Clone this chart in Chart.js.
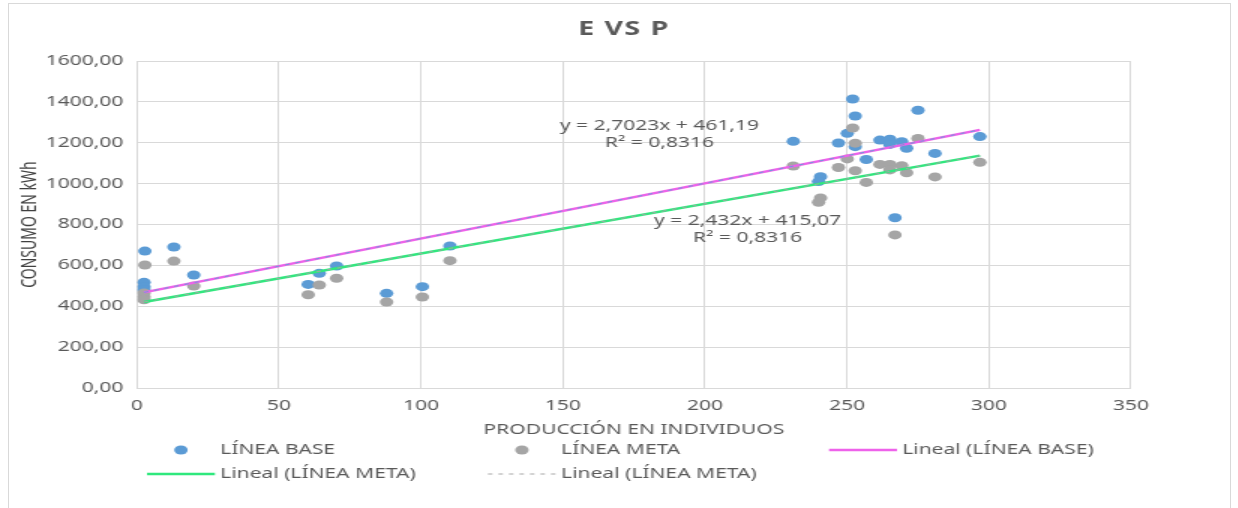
<!DOCTYPE html>
<html>
<head>
<meta charset="utf-8">
<script src="https://cdn.jsdelivr.net/npm/chart.js@4.4.0/dist/chart.umd.min.js"></script>
<style>
  html, body { margin: 0; padding: 0; background: #fff; overflow: hidden; }
  #frame { position: absolute; left: 8px; top: 3px; width: 1221px; height: 530px; border: 1px solid #d9d9d9; }
  /* the reference is stretched sideways, so draw narrow and widen it */
  #wrap { position: absolute; left: 0; top: 0; width: 825.33px; height: 508px; transform: scaleX(1.5); transform-origin: 0 0; }
</style>
</head>
<body>
<div id="frame"></div>
<div id="wrap"><canvas id="chart"></canvas></div>
<script>
const FONT = "'Noto Sans', sans-serif";
const TEXT = "#595959";
const GRID = "#d9d9d9";

// production (x) shared by both series
const produccion = [2.8, 13, 20, 2.5, 2.5, 2.5, 60.3, 64.2, 70.3, 87.9, 100.5, 110.2,
  231.1, 252, 252.9, 250.1, 247, 252.9, 240.7, 240, 256.8, 261.6, 265.1, 265.1,
  269.3, 271, 275, 281, 296.8, 266.9];
const lineaBase = [670, 690, 553, 517, 495, 480, 507, 561, 597, 463, 496, 695,
  1207, 1414, 1331, 1246, 1199, 1181, 1034, 1010, 1118, 1213, 1217, 1192,
  1205, 1173, 1359, 1148, 1230, 833];
const lineaMeta = [602, 621, 499, 465, 446, 432, 456, 504, 537, 421, 445, 623,
  1086, 1272, 1198, 1121, 1079, 1063, 930, 909, 1006, 1094, 1094, 1067,
  1088, 1053, 1221, 1033, 1104, 749];

// trend coefficients as printed on the chart
const trendBase = { m: 2.7023, b: 461.19, label: "y = 2,7023x + 461,19", r2: "R² = 0,8316", at: [184, 1282] };
const trendMeta = { m: 2.432, b: 415.07, label: "y = 2,432x + 415,07", r2: "R² = 0,8316", at: [215, 817] };

const xTicks = [0, 50, 100, 150, 200, 250, 300, 350];
const yTicks = [0, 200, 400, 600, 800, 1000, 1200, 1400, 1600];

function points(ys) {
  return produccion.map((x, i) => ({ x, y: ys[i] }));
}

function trendPoints(t) {
  const lo = Math.min(...produccion);
  const hi = Math.max(...produccion);
  return [{ x: lo, y: t.m * lo + t.b }, { x: hi, y: t.m * hi + t.b }];
}

function fmt(v) {
  return v.toFixed(2).replace(".", ",");
}

// title + trend equations
const labelsPlugin = {
  id: "labelsPlugin",
  afterDatasetsDraw(chart) {
    const { ctx, scales } = chart;
    ctx.save();
    ctx.fillStyle = TEXT;
    ctx.textAlign = "center";
    ctx.textBaseline = "middle";
    ctx.font = `bold 19px ${FONT}`;
    ctx.letterSpacing = "1px";
    ctx.fillText("E VS P", 416, 30);
    ctx.letterSpacing = "0px";
    ctx.font = `14px ${FONT}`;
    [trendBase, trendMeta].forEach((t) => {
      const px = scales.x.getPixelForValue(t.at[0]);
      const py = scales.y.getPixelForValue(t.at[1]);
      ctx.fillText(t.label, px, py);
      ctx.fillText(t.r2, px, py + 17);
    });
    ctx.restore();
  },
};

// legend laid out as a 3-column grid like the original
const gridLegend = {
  id: "gridLegend",
  afterDraw(chart) {
    const { ctx } = chart;
    const items = chart.data.datasets
      .filter((ds) => ds.legendPos !== undefined)
      .sort((a, b) => a.legendPos - b.legendPos);
    const colX = [98, 325.3, 552.7];
    const rowY = [chart.height - 58, chart.height - 34];
    const boxW = 45.3;
    ctx.save();
    ctx.font = `14px ${FONT}`;
    ctx.textBaseline = "middle";
    ctx.textAlign = "left";
    items.forEach((ds, i) => {
      const x = colX[i % 3];
      const y = rowY[Math.floor(i / 3)];
      if (ds.showLine) {
        ctx.strokeStyle = ds.borderColor;
        ctx.lineWidth = ds.borderWidth;
        ctx.setLineDash(ds.borderDash || []);
        ctx.beginPath();
        ctx.moveTo(x, y);
        ctx.lineTo(x + boxW, y);
        ctx.stroke();
        ctx.setLineDash([]);
      } else {
        ctx.fillStyle = ds.backgroundColor;
        ctx.beginPath();
        ctx.arc(x + boxW / 2, y, 4.5, 0, Math.PI * 2);
        ctx.fill();
      }
      ctx.fillStyle = TEXT;
      ctx.fillText(ds.label, x + boxW + 3.5, y);
    });
    ctx.restore();
  },
};

const ctx = document.getElementById("chart");
const chart = new Chart(ctx, {
  type: "scatter",
  data: {
    datasets: [
      {
        label: "LÍNEA BASE",
        data: points(lineaBase),
        backgroundColor: "#5b9bd5",
        borderWidth: 0,
        pointRadius: 4.5,
        legendPos: 0,
        order: 3,
      },
      {
        label: "LÍNEA META",
        data: points(lineaMeta),
        backgroundColor: "#a5a5a5",
        borderWidth: 0,
        pointRadius: 4.5,
        legendPos: 1,
        order: 2,
      },
      {
        label: "Lineal (LÍNEA BASE)",
        data: trendPoints(trendBase),
        showLine: true,
        borderColor: "#ee62ea",
        borderWidth: 2.5,
        pointRadius: 0,
        legendPos: 2,
        order: 1,
      },
      {
        label: "base dotted",
        data: trendPoints(trendBase),
        showLine: true,
        borderColor: "#6a9fd8",
        borderWidth: 1,
        borderDash: [3, 4],
        pointRadius: 0,
        order: 0,
      },
      {
        label: "Lineal (LÍNEA META)",
        data: trendPoints(trendMeta),
        showLine: true,
        borderColor: "#2fe87d",
        borderWidth: 2.5,
        pointRadius: 0,
        legendPos: 3,
        order: 1,
      },
      {
        label: "Lineal (LÍNEA META)",
        data: trendPoints(trendMeta),
        showLine: true,
        borderColor: "#a5a5a5",
        borderWidth: 1,
        borderDash: [3, 4],
        pointRadius: 0,
        legendPos: 4,
        order: 0,
      },
    ],
  },
  options: {
    responsive: true,
    maintainAspectRatio: false,
    animation: false,
    layout: { padding: { left: 0, right: 71.3, top: 61, bottom: 69.6 } },
    scales: {
      x: {
        type: "linear",
        min: 0,
        max: 350,
        afterBuildTicks: (scale) => { scale.ticks = xTicks.map((v) => ({ value: v })); },
        afterFit: (scale) => { scale.height = 50.4; },
        ticks: { color: TEXT, font: { family: FONT, size: 14 }, padding: 10, maxRotation: 0 },
        grid: { color: GRID, drawTicks: false },
        border: { color: GRID },
        title: {
          display: true,
          text: "PRODUCCIÓN EN INDIVIDUOS",
          color: TEXT,
          font: { family: FONT, size: 14 },
          padding: { top: 4, bottom: 0 },
        },
      },
      y: {
        min: 0,
        max: 1600,
        afterBuildTicks: (scale) => { scale.ticks = yTicks.map((v) => ({ value: v })); },
        afterFit: (scale) => { scale.width = 91.3; },
        ticks: { color: TEXT, font: { family: FONT, size: 14 }, padding: 9, callback: (v) => fmt(v) },
        grid: { color: GRID, drawTicks: false },
        border: { color: GRID },
        title: {
          display: true,
          text: "CONSUMO EN kWh",
          color: "#404040",
          font: { family: FONT, size: 14 },
          padding: { top: 11.6, bottom: 0 },
        },
      },
    },
    plugins: {
      legend: { display: false },
      tooltip: { enabled: false },
      title: { display: false },
    },
  },
  plugins: [labelsPlugin, gridLegend],
});
</script>
</body>
</html>
